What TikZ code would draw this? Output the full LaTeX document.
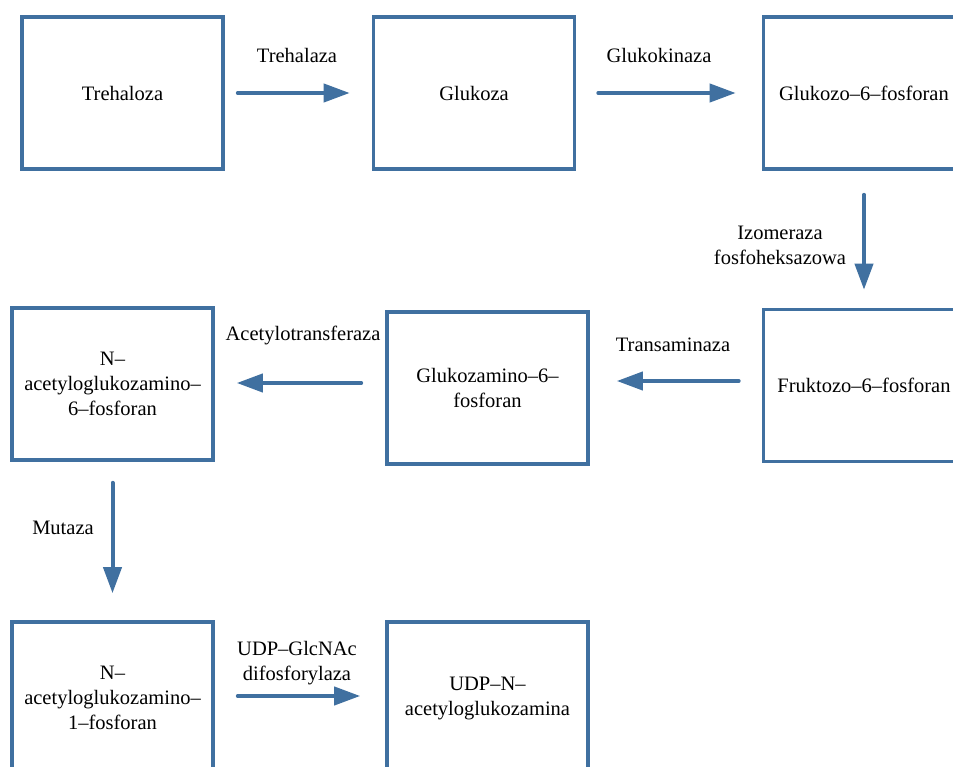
\documentclass[tikz,border=0pt]{standalone}
\usepackage{fontspec}
\setmainfont{Liberation Serif}
\usetikzlibrary{arrows.meta}
\definecolor{boxblue}{RGB}{64,112,160}
\begin{document}
\begin{tikzpicture}[x=1pt,y=-1pt,
  stepbox/.style={draw=boxblue, line width=3.6pt, minimum width=201pt, minimum height=152pt, inner sep=0pt, align=center, font=\fontsize{20.5}{25}\selectfont},
  lbl/.style={align=center, inner sep=0pt, font=\fontsize{20.5}{25}\selectfont},
  arr/.style={draw=boxblue, line width=4pt, line cap=round, -{Triangle[length=26pt,width=18pt]}}]
\useasboundingbox (0,0) rectangle (953,767);
\clip (0,0) rectangle (953,767);
\fill[white] (0,0) rectangle (953,767);
% boxes
\node[stepbox] (b1) at (122.5,93) {Trehaloza};
\node[stepbox] (b2) at (474,93) {Glukoza};
\node[stepbox] (b3) at (864,93) {Glukozo–6–fosforan};
\node[stepbox] (b6) at (864,385.5) {Fruktozo–6–fosforan};
\node[stepbox] (b5) at (487.5,388) {Glukozamino–6–\\fosforan};
\node[stepbox] (b4) at (112.5,384) {N–\\acetyloglukozamino–\\6–fosforan};
\node[stepbox] (b7) at (112.5,698) {N–\\acetyloglukozamino–\\1–fosforan};
\node[stepbox] (b8) at (487.5,698) {UDP–N–\\acetyloglukozamina};
% arrows
\draw[arr, shorten <=13pt, shorten >=22pt] (b1.east) -- (b2.west);
\draw[arr, shorten <=22pt, shorten >=26pt] (b2.east) -- (b3.west);
\draw[arr, shorten <=24pt, shorten >=18pt] (b3.south) -- (b6.north);
\draw[arr] ([xshift=-23pt,yshift=4.5pt]b6.west) -- ([xshift=27pt,yshift=7pt]b5.east);
\draw[arr] ([xshift=-24pt,yshift=5pt]b5.west) -- ([xshift=22pt,yshift=1pt]b4.east);
\draw[arr, shorten <=21pt, shorten >=27pt] (b4.south) -- (b7.north);
\draw[arr] ([xshift=23pt,yshift=2pt]b7.east) -- ([xshift=-25pt,yshift=2pt]b8.west);
% labels
\node[lbl] (l1) at (297,55) {Trehalaza};
\node[lbl] (l2) at (659,55) {Glukokinaza};
\node[lbl] (l3) at (780,245) {Izomeraza\\fosfoheksazowa};
\node[lbl] (l4) at (673,345) {Transaminaza};
\node[lbl] (l5) at (303,335) {Acetylotransferaza};
\node[lbl] (l6) at (63,528) {Mutaza};
\node[lbl] (l7) at (297,663) {UDP–GlcNAc\\difosforylaza};
\end{tikzpicture}
\end{document}
